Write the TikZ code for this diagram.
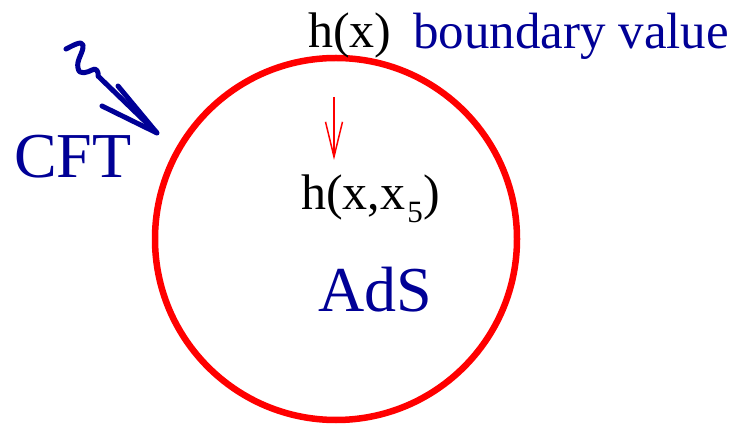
\documentclass[tikz,border=0pt]{standalone}
\usepackage{fontspec}
\setmainfont{Liberation Serif}
\usetikzlibrary{arrows.meta}
\definecolor{navy}{RGB}{0,0,150}
\tikzset{
  lbl/.style={inner sep=0pt, anchor=base west},
  mid/.style={font=\fontsize{50}{55}\selectfont},
  big/.style={font=\fontsize{64}{70}\selectfont, text=navy},
  wave/.style={navy, line width=5pt, line cap=round, line join=round},
}
\begin{document}
\begin{tikzpicture}[x=1pt,y=-1pt]
\useasboundingbox (0,0) rectangle (747,427);
\node[draw=red, line width=6.5pt, circle, minimum size=362pt, inner sep=0pt] (ads) at (336,239) {};
\node[lbl, mid] (hx) at (308,48) {h(x)};
\node[lbl, font=\fontsize{51}{55}\selectfont, text=navy] (bv) at (413,49) {boundary value};
\node[lbl, font=\fontsize{50}{52}\selectfont] (hxx) at (301,210) {h(x,x\kern2pt\raisebox{-13pt}{\fontsize{31}{32}\selectfont 5}\kern1pt)};
\node[lbl, big] (cft) at (14,178) {CFT};
\node[lbl, big] (adsl) at (318,312) {AdS};
\coordinate (ra) at (334,97);
\coordinate (rb) at (334,160);
\draw[red, line width=1.5pt, -{Straight Barb[length=35pt,width=17pt,line width=1.5pt]}] (ra) -- (rb);
\coordinate (w0) at (66,49);
\coordinate (tip) at (157,133);
\draw[wave] (w0) .. controls (72,46) and (82,40) .. (83,45) .. controls (84,52) and (76,60) .. (78,68)
  .. controls (79,76) and (88,72) .. (92,70) .. controls (96,67) and (99,72) .. (98,76) -- (tip);
\draw[wave] (118,86) -- (tip) -- (102,106);
\end{tikzpicture}
\end{document}
